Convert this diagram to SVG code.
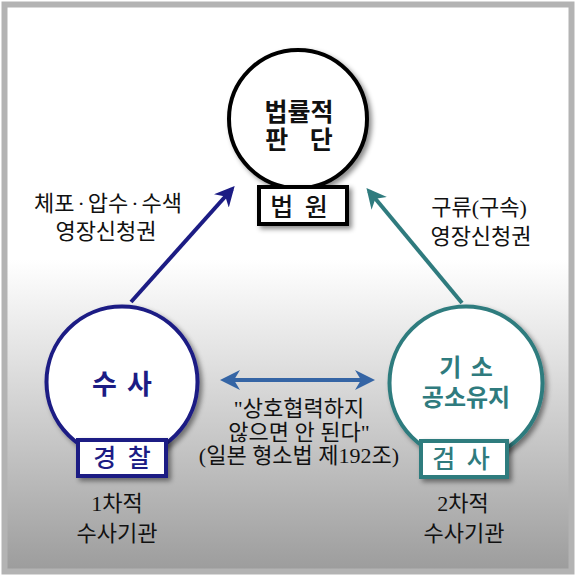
<svg xmlns="http://www.w3.org/2000/svg" width="576" height="576" viewBox="0 0 576 576">
<defs>
<linearGradient id="bg" x1="0" y1="0" x2="0" y2="1">
<stop offset="0" stop-color="#ffffff"/>
<stop offset="0.45" stop-color="#ffffff"/>
<stop offset="0.62" stop-color="#e2e2e2"/>
<stop offset="1" stop-color="#9c9c9c"/>
</linearGradient>
<filter id="sh" x="-20%" y="-20%" width="150%" height="150%">
<feDropShadow dx="3" dy="3" stdDeviation="2.5" flood-color="#000" flood-opacity="0.45"/>
</filter>
<marker id="mNavy" viewBox="0 0 10 10" refX="8" refY="5" markerWidth="5" markerHeight="5" orient="auto-start-reverse" markerUnits="strokeWidth">
<path d="M0,0 L10,5 L0,10 L3,5 z" fill="#1c1c84"/>
</marker>
<marker id="mTeal" viewBox="0 0 10 10" refX="8" refY="5" markerWidth="5" markerHeight="5" orient="auto-start-reverse" markerUnits="strokeWidth">
<path d="M0,0 L10,5 L0,10 L3,5 z" fill="#2f7b7e"/>
</marker>
<marker id="mBlue" viewBox="0 0 10 10" refX="8" refY="5" markerWidth="5" markerHeight="5" orient="auto-start-reverse" markerUnits="strokeWidth">
<path d="M0,0 L10,5 L0,10 L3,5 z" fill="#3565a5"/>
</marker>
</defs>
<style>
.lbl{font-family:"Liberation Serif","Noto Sans CJK KR",serif;font-size:22px;fill:#111;text-anchor:middle}
.node{font-family:"Noto Sans CJK KR","Liberation Sans",sans-serif;font-weight:bold;text-anchor:middle}
.tag{font-family:"Noto Sans CJK KR","Liberation Sans",sans-serif;font-weight:500;text-anchor:middle;font-size:25px;word-spacing:6px}
.box{fill:#fff;stroke-width:4}
</style>
<rect x="0" y="0" width="576" height="576" fill="#ffffff"/>
<rect x="4.5" y="4.5" width="567" height="567" fill="url(#bg)" stroke="#b3b3b3" stroke-width="6"/>

<g id="connectors" fill="none" stroke-width="4">
<line x1="131" y1="302" x2="232" y2="189" stroke="#1c1c84" marker-end="url(#mNavy)"/>
<line x1="462" y1="303" x2="369" y2="191" stroke="#2f7b7e" marker-end="url(#mTeal)"/>
<line x1="224" y1="380" x2="371" y2="380" stroke="#3565a5" marker-start="url(#mBlue)" marker-end="url(#mBlue)"/>
</g>

<g id="court">
<circle cx="298" cy="119" r="69" fill="#fff" stroke="#000" stroke-width="4" filter="url(#sh)"/>
<rect class="box" x="259" y="187" width="88" height="37" stroke="#000" filter="url(#sh)"/>
<text class="node" font-size="25" fill="#111"><tspan x="299" y="121">법률적</tspan><tspan x="299" y="149" word-spacing="16">판 단</tspan></text>
<text class="tag" x="299" y="216" fill="#111">법 원</text>
</g>

<g id="police">
<circle cx="122" cy="382" r="75.5" fill="#fff" stroke="#1c1c84" stroke-width="4" filter="url(#sh)"/>
<rect class="box" x="78" y="440" width="88" height="36" stroke="#1c1c84" filter="url(#sh)"/>
<text class="node" x="122" y="394" font-size="27" fill="#1c1c84" word-spacing="4">수 사</text>
<text class="tag" x="122" y="467" fill="#1c1c84">경 찰</text>
</g>

<g id="prosecutor">
<circle cx="466" cy="383" r="76.5" fill="#fff" stroke="#2f7b7e" stroke-width="4" filter="url(#sh)"/>
<rect class="box" x="421" y="441" width="86" height="36" stroke="#2f7b7e" filter="url(#sh)"/>
<text class="node" font-size="24" fill="#2f7b7e"><tspan x="466" y="376" word-spacing="4">기 소</tspan><tspan x="466" y="406">공소유지</tspan></text>
<text class="tag" x="461" y="468" fill="#2f7b7e">검 사</text>
</g>

<g id="labels">
<text class="lbl" x="108" y="211">체포<tspan dx="3">·</tspan><tspan dx="3">압수</tspan><tspan dx="3">·</tspan><tspan dx="3">수색</tspan></text>
<text class="lbl" x="106" y="239">영장신청권</text>
<text class="lbl" x="479" y="215" font-size="23">구류(구속)</text>
<text class="lbl" x="481" y="244" font-size="23">영장신청권</text>
<text class="lbl" x="299" y="416" font-size="20">"상호협력하지</text>
<text class="lbl" x="299" y="440" font-size="20">않으면 안 된다"</text>
<text class="lbl" x="299" y="463" font-size="20">(일본 형소법 제192조)</text>
<text class="lbl" x="117" y="511">1차적</text>
<text class="lbl" x="117" y="541">수사기관</text>
<text class="lbl" x="463" y="511">2차적</text>
<text class="lbl" x="464" y="541">수사기관</text>
</g>
</svg>
